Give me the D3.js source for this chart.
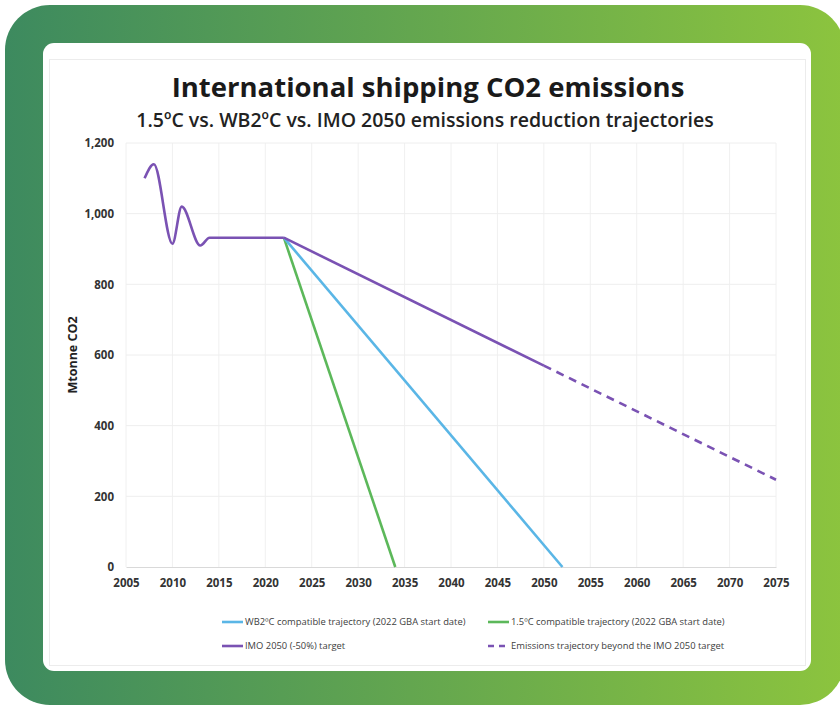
<!DOCTYPE html>
<html>
<head>
<meta charset="utf-8">
<script src="https://cdn.jsdelivr.net/npm/d3@7"></script>
<style>
  body { margin: 0; background: #fff; }
  svg { display: block; }
</style>
</head>
<body>
<div id="chart"></div>
<script>
// data
var histYears = [2007, 2008, 2010, 2011, 2013, 2014, 2022];
var histValues = [1100, 1140, 915, 1020, 910, 932, 932];

var imoYears = [2022, 2050];
var imoValues = [932, 570];

var beyondYears = [2050, 2075];
var beyondValues = [570, 247];

var wb2Years = [2022, 2052];
var wb2Values = [932, 0];

var c15Years = [2022, 2034];
var c15Values = [932, 0];

var xTicks = d3.range(2005, 2076, 5);
var yTicks = [0, 200, 400, 600, 800, 1000, 1200];

var legendLabels = [
  "WB2ºC compatible trajectory (2022 GBA start date)",
  "1.5ºC compatible trajectory (2022 GBA start date)",
  "IMO 2050 (-50%) target",
  "Emissions trajectory beyond the IMO 2050 target"
];

var W = 840, H = 706;
var purple = "#7a52b3", blue = "#5ab6e6", green = "#5cb85a";

var svg = d3.select("#chart").append("svg")
    .attr("width", W)
    .attr("height", H);

// green gradient frame
var grad = svg.append("defs").append("linearGradient")
    .attr("id", "frame")
    .attr("x1", "0%").attr("x2", "100%");
grad.append("stop").attr("offset", "0%").attr("stop-color", "#3d8a5f");
grad.append("stop").attr("offset", "100%").attr("stop-color", "#8cc43e");

svg.append("rect")
    .attr("x", 5).attr("y", 5)
    .attr("width", 840).attr("height", 700)
    .attr("rx", 45)
    .attr("fill", "url(#frame)");

svg.append("rect")
    .attr("x", 43).attr("y", 43)
    .attr("width", 768).attr("height", 628)
    .attr("rx", 11)
    .attr("fill", "#fff");

// faint border of the chart image
svg.append("rect")
    .attr("x", 49.5).attr("y", 59.5)
    .attr("width", 756).attr("height", 606)
    .attr("fill", "none")
    .attr("stroke", "#ececec");

// titles
svg.append("text")
    .attr("x", 428).attr("y", 97)
    .attr("text-anchor", "middle")
    .style("font-family", "Open Sans")
    .style("font-weight", "bold")
    .style("font-size", "27.5px")
    .attr("fill", "#1a1a1a")
    .text("International shipping CO2 emissions");

svg.append("text")
    .attr("x", 425).attr("y", 127)
    .attr("text-anchor", "middle")
    .style("font-family", "Open Sans")
    .style("font-weight", "600")
    .style("font-size", "19.5px")
    .attr("fill", "#222")
    .text("1.5ºC vs. WB2ºC vs. IMO 2050 emissions reduction trajectories");

// scales
var x = d3.scaleLinear().domain([2005, 2075]).range([126, 776]);
var y = d3.scaleLinear().domain([0, 1200]).range([567, 143]);

// gridlines
svg.append("g")
    .selectAll("line.v")
    .data(xTicks)
    .enter().append("line")
    .attr("x1", function(d) { return x(d); })
    .attr("x2", function(d) { return x(d); })
    .attr("y1", y(1200)).attr("y2", y(0))
    .attr("stroke", "#f0f0f0");

svg.append("g")
    .selectAll("line.h")
    .data(yTicks.slice(1))
    .enter().append("line")
    .attr("x1", x(2005)).attr("x2", x(2075))
    .attr("y1", function(d) { return y(d); })
    .attr("y2", function(d) { return y(d); })
    .attr("stroke", "#eeeeee");

// axes
var xAxis = svg.append("g")
    .attr("transform", "translate(0," + y(0) + ")")
    .call(d3.axisBottom(x).tickValues(xTicks).tickFormat(d3.format("d")).tickSize(0).tickPadding(12));
xAxis.select(".domain").attr("stroke", "#d9d9d9");

var yAxis = svg.append("g")
    .attr("transform", "translate(" + (x(2005) - 12) + ",0)")
    .call(d3.axisLeft(y).tickValues(yTicks).tickFormat(d3.format(",")).tickSize(0).tickPadding(0));
yAxis.select(".domain").remove();

svg.selectAll(".tick text")
    .style("font-family", "Open Sans")
    .style("font-weight", "bold")
    .style("font-size", "11.5px")
    .attr("fill", "#333");

svg.append("text")
    .attr("transform", "translate(77,355) rotate(-90)")
    .attr("text-anchor", "middle")
    .style("font-family", "Open Sans")
    .style("font-weight", "bold")
    .style("font-size", "12.5px")
    .attr("fill", "#222")
    .text("Mtonne CO2");

// lines
function pts(xs, vs) {
  return xs.map(function(d, i) { return [d, vs[i]]; });
}

var straight = d3.line()
    .x(function(d) { return x(d[0]); })
    .y(function(d) { return y(d[1]); });

var smooth = d3.line()
    .curve(d3.curveMonotoneX)
    .x(function(d) { return x(d[0]); })
    .y(function(d) { return y(d[1]); });

svg.append("path")
    .attr("d", straight(pts(c15Years, c15Values)))
    .attr("fill", "none").attr("stroke", green).attr("stroke-width", 2.6);

svg.append("path")
    .attr("d", straight(pts(wb2Years, wb2Values)))
    .attr("fill", "none").attr("stroke", blue).attr("stroke-width", 2.6);

svg.append("path")
    .attr("d", straight(pts(beyondYears, beyondValues)))
    .attr("fill", "none").attr("stroke", purple).attr("stroke-width", 2.6)
    .attr("stroke-dasharray", "8,6");

svg.append("path")
    .attr("d", straight(pts(imoYears, imoValues)))
    .attr("fill", "none").attr("stroke", purple).attr("stroke-width", 2.6);

svg.append("path")
    .attr("d", smooth(pts(histYears, histValues)))
    .attr("fill", "none").attr("stroke", purple).attr("stroke-width", 2.6)
    .attr("stroke-linejoin", "round");

// legend
var legendItems = [
  { label: legendLabels[0], color: blue, dash: null, lx: 222, ly: 622 },
  { label: legendLabels[1], color: green, dash: null, lx: 488, ly: 622 },
  { label: legendLabels[2], color: purple, dash: null, lx: 222, ly: 646 },
  { label: legendLabels[3], color: purple, dash: "6,5", lx: 488, ly: 646 }
];

var legend = svg.append("g")
    .selectAll("g")
    .data(legendItems)
    .enter().append("g")
    .attr("transform", function(d) { return "translate(" + d.lx + "," + d.ly + ")"; });

legend.append("line")
    .attr("x1", 0).attr("x2", 21)
    .attr("stroke", function(d) { return d.color; })
    .attr("stroke-width", 2.6)
    .attr("stroke-dasharray", function(d) { return d.dash; });

legend.append("text")
    .attr("x", 23).attr("y", 3.2)
    .style("font-family", "Open Sans")
    .style("font-size", "9.4px")
    .attr("fill", "#404040")
    .text(function(d) { return d.label; });
</script>
</body>
</html>
